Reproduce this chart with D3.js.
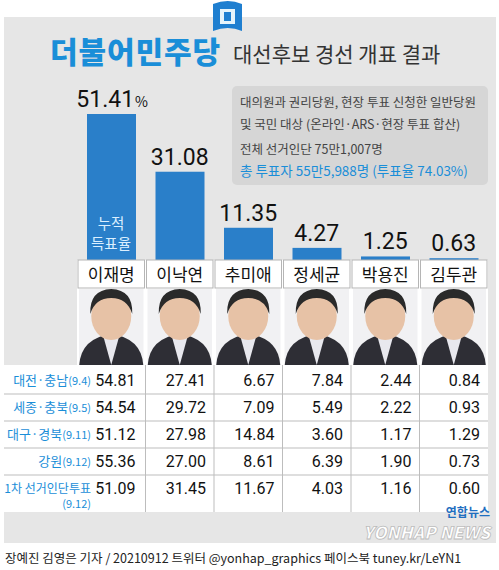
<!DOCTYPE html>
<html><head><meta charset="utf-8">
<script src="https://cdn.jsdelivr.net/npm/d3@7"></script>
<style>body{margin:0;background:#fff}svg{display:block;font-family:"Noto Sans CJK KR","Noto Sans",sans-serif}</style>
</head><body><div class="chart"></div>
<script>
var candidates = ['이재명','이낙연','추미애','정세균','박용진','김두관'];
var totals = [51.41, 31.08, 11.35, 4.27, 1.25, 0.63];
var regions = ['대전·충남','세종·충북','대구·경북','강원','1차 선거인단투표'];
var regionDates = ['(9.4)','(9.5)','(9.11)','(9.12)','(9.12)'];
var regionValues = [
  ['54.81','27.41','6.67','7.84','2.44','0.84'],
  ['54.54','29.72','7.09','5.49','2.22','0.93'],
  ['51.12','27.98','14.84','3.60','1.17','1.29'],
  ['55.36','27.00','8.61','6.39','1.90','0.73'],
  ['51.09','31.45','11.67','4.03','1.16','0.60']
];

var svg = d3.select('.chart').append('svg').attr('width',499).attr('height',570);
var blue = '#2a7fc9', lblue = '#1a8ed8';

svg.append('rect').attr('x',4).attr('y',17).attr('width',492).attr('height',526).attr('fill','#e6e6e6');

// flag icon
svg.append('path').attr('d','M213,4 Q228,-2 242,4 L242,31 Q228,25 213,31 Z').attr('fill','#1f7fd0');
svg.append('rect').attr('x',220).attr('y',9).attr('width',15).attr('height',15).attr('fill','#e6f4fb');
svg.append('rect').attr('x',224).attr('y',12).attr('width',7).attr('height',9).attr('fill','#1f7fd0');

svg.append('text').attr('x',50).attr('y',63).attr('font-size',30).attr('font-weight',900)
  .attr('fill',lblue).attr('textLength',170).text('더불어민주당');
svg.append('text').attr('x',233).attr('y',62).attr('font-size',21).attr('fill','#333').text('대선후보 경선 개표 결과');

// info box
svg.append('rect').attr('x',232).attr('y',86).attr('width',256).attr('height',99).attr('rx',5).attr('fill','#d6d6d6');
var info = [['대의원과 권리당원, 현장 투표 신청한 일반당원',107,'#444'],['및 국민 대상 (온라인·ARS·현장 투표 합산)',129,'#444'],
  ['전체 선거인단 75만1,007명',154,'#444'],['총 투표자 55만5,988명 (투표율 74.03%)',176,lblue]];
info.forEach(function(d){
  svg.append('text').attr('x',240).attr('y',d[1]).attr('font-size',d[2]==lblue?13.5:12.5).attr('fill',d[2]).text(d[0]);
});

var x = d3.scaleBand().domain(candidates).range([77,488]);
var y = d3.scaleLinear().domain([0,51.41]).range([260,114]);

svg.selectAll('.bar').data(totals).enter().append('rect')
  .attr('x',function(d,i){return x(candidates[i])+10;})
  .attr('width',49)
  .attr('y',function(d){return y(d);})
  .attr('height',function(d){return 260-y(d);})
  .attr('fill',blue);

svg.selectAll('.val').data(totals).enter().append('text')
  .attr('x',function(d,i){return x(candidates[i])+x.bandwidth()/2 - (i==0?6:0);})
  .attr('y',function(d){return y(d)-7;})
  .attr('text-anchor','middle').attr('font-size',23).attr('fill','#111')
  .attr('font-family','Roboto, sans-serif')
  .text(function(d){return d.toFixed(2);});
svg.append('text').attr('x',135).attr('y',107).attr('font-size',14).attr('fill','#111').text('%');

svg.append('text').attr('x',111).attr('y',229).attr('text-anchor','middle').attr('font-size',14.5).attr('fill','#dbefff').text('누적');
svg.append('text').attr('x',111).attr('y',249).attr('text-anchor','middle').attr('font-size',14.5).attr('fill','#dbefff').text('득표율');

// name row + photos
svg.append('rect').attr('x',77).attr('y',260).attr('width',411).attr('height',105).attr('fill','#fff');
svg.selectAll('.nm').data(candidates).enter().append('rect')
  .attr('x',function(d){return x(d)+1;}).attr('y',260).attr('width',x.bandwidth()-2).attr('height',28)
  .attr('fill','#fff').attr('stroke','#b5b5b5');
svg.selectAll('.nmt').data(candidates).enter().append('text')
  .attr('x',function(d){return x(d)+x.bandwidth()/2;}).attr('y',281)
  .attr('text-anchor','middle').attr('font-size',17).attr('fill','#111').text(function(d){return d;});
var ph = svg.selectAll('.ph').data(candidates).enter().append('g')
  .attr('transform',function(d){return 'translate('+(x(d)+x.bandwidth()/2)+',0)';});
ph.append('rect').attr('x',-x.bandwidth()/2+2).attr('y',289).attr('width',x.bandwidth()-4).attr('height',76).attr('fill','#f1f1f3');
ph.append('path').attr('d','M-32,365 Q-30,338 0,334 Q30,338 32,365 Z').attr('fill','#2e2e35');
ph.append('path').attr('d','M-8,336 L0,365 L8,336 Z').attr('fill','#e8e8ee');
ph.append('ellipse').attr('cx',0).attr('cy',316).attr('rx',20).attr('ry',24).attr('fill','#e7c2a6');
ph.append('path').attr('d','M-21,314 Q-22,290 0,289 Q22,290 21,314 Q16,298 0,298 Q-16,298 -21,314 Z').attr('fill','#2a2a2a');

// table
var rowY = [367,394,421,448,475], rowH = [27,27,27,27,37];
svg.append('rect').attr('x',4).attr('y',365).attr('width',484).attr('height',147).attr('fill','#fff');
rowY.forEach(function(r,i){
  svg.append('line').attr('x1',4).attr('x2',488).attr('y1',r+rowH[i]).attr('y2',r+rowH[i])
    .attr('stroke','#bdbdbd').attr('stroke-width',i==4?0:1);
});
candidates.slice(1).forEach(function(c){
  svg.append('line').attr('x1',x(c)).attr('x2',x(c)).attr('y1',365).attr('y2',512).attr('stroke','#bdbdbd');
});
regions.forEach(function(r,i){
  var g = svg.append('text').attr('x',91).attr('y',rowY[i]+18).attr('text-anchor','end').attr('fill',lblue);
  if(i<4){
    g.append('tspan').attr('font-size',13).text(r);
    g.append('tspan').attr('font-size',11).text(regionDates[i]);
  } else {
    g.attr('font-size',12).text(r);
    svg.append('text').attr('x',91).attr('y',rowY[i]+33).attr('text-anchor','end').attr('font-size',11).attr('fill',lblue).text(regionDates[i]);
  }
  svg.selectAll('.v'+i).data(regionValues[i]).enter().append('text')
    .attr('x',function(d,j){return x(candidates[j])+x.bandwidth()-8 + (j==0?-2:0);})
    .attr('y',rowY[i]+19).attr('text-anchor','end').attr('font-size',16).attr('fill','#111')
    .attr('font-family','Roboto, sans-serif').text(function(d){return d;});
});

// logo
svg.append('text').attr('x',490).attr('y',517).attr('text-anchor','end').attr('font-size',12).attr('font-weight',700)
  .attr('fill','#1f6fc0').text('연합뉴스');
svg.append('text').attr('x',490).attr('y',539).attr('text-anchor','end').attr('font-size',17).attr('font-weight',900)
  .attr('font-style','italic').attr('fill','#fff').attr('stroke','#bbb').attr('stroke-width',0.8).text('YONHAP NEWS');

svg.append('text').attr('x',5).attr('y',563).attr('font-size',12.5).attr('fill','#222')
  .text('장예진 김영은 기자 / 20210912  트위터 @yonhap_graphics  페이스북 tuney.kr/LeYN1');
</script></body></html>
